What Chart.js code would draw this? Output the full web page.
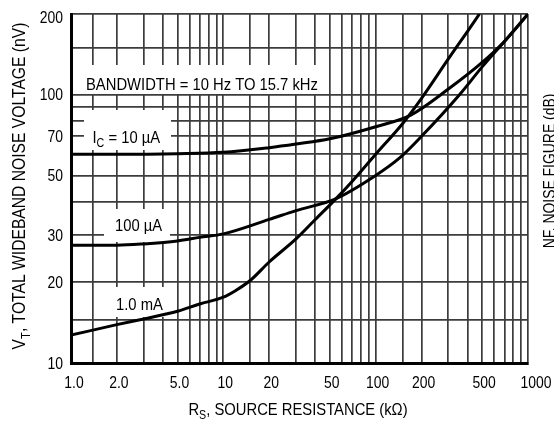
<!DOCTYPE html>
<html>
<head>
<meta charset="utf-8">
<script src="https://cdn.jsdelivr.net/npm/chart.js@4/dist/chart.umd.min.js"></script>
<style>
  html, body { margin: 0; padding: 0; background: #fff; }
  #wrap { width: 554px; height: 421px; }
</style>
</head>
<body>
<div id="wrap"><canvas id="noiseChart" width="554" height="421"></canvas></div>
<script>
// Source resistance (kOhm) against total wideband noise voltage (nV)
const rs10uA = [1, 2, 5, 10, 20, 30, 50, 100, 170, 300, 500, 700, 1000];
const vt10uA = [60, 60, 60.3, 61, 63.5, 65.5, 68.5, 76, 84, 105, 132, 158, 200];

const rs100uA = [1, 2, 3, 5, 7, 10, 20, 30, 55, 100, 143, 200, 355, 500, 700, 1000];
const vt100uA = [27.5, 27.5, 27.8, 28.5, 29.4, 30.3, 34.3, 37, 41, 50, 58, 70, 100, 127, 158, 200];

const rs1mA = [1, 2, 3, 5, 7, 10, 12, 15, 20, 30, 40, 55, 70, 100, 150, 200, 300, 400, 480];
const vt1mA = [12.7, 13.9, 14.6, 15.6, 16.6, 17.6, 18.6, 20.3, 23.8, 29, 34.2, 41, 47.5, 60, 78, 97, 136, 172, 200];

// grid lines (the extra horizontal ones belong to the cut-off NF axis)
const xGridValues = [1, 1.4, 2, 3, 4, 5, 6, 7, 8, 9, 10, 15, 20, 30, 40, 50, 60, 70, 80, 90,
                     100, 150, 200, 300, 400, 500, 600, 700, 800, 900, 1000];
const yGridValues = [10, 14.5, 20, 30, 40, 50, 60, 70, 80, 90, 100, 150, 200];

// tick labels
const xTickValues = [1, 2, 5, 10, 20, 50, 100, 200, 500, 1000];
const xTickText = ['1.0', '2.0', '5.0', '10', '20', '50', '100', '200', '500', '1000'];
const yTickValues = [10, 20, 30, 50, 70, 100, 200];

const FONT = "'Liberation Sans', Arial, sans-serif";
const SQUEEZE = 0.87;

function toPoints(xs, ys) {
    return xs.map((x, i) => ({ x: x, y: ys[i] }));
}

// draws a run of text pieces (some subscripted), squeezed horizontally like the original lettering
function drawParts(ctx, parts, x, y, size, align, angle) {
    ctx.save();
    ctx.translate(x, y);
    if (angle) ctx.rotate(angle);
    ctx.scale(SQUEEZE, 1);
    ctx.fillStyle = '#000';
    ctx.textAlign = 'left';
    ctx.textBaseline = 'alphabetic';
    let total = 0;
    const widths = parts.map(p => {
        ctx.font = (p.sub ? size * 0.72 : size) + 'px ' + FONT;
        const w = ctx.measureText(p.t).width;
        total += w;
        return w;
    });
    let cx = align === 'center' ? -total / 2 : (align === 'right' ? -total : 0);
    parts.forEach((p, i) => {
        ctx.font = (p.sub ? size * 0.72 : size) + 'px ' + FONT;
        ctx.fillText(p.t, cx, p.sub ? size * 0.25 : 0);
        cx += widths[i];
    });
    ctx.restore();
}

function whiteBox(ctx, x1, y1, x2, y2) {
    ctx.save();
    ctx.fillStyle = '#fff';
    ctx.fillRect(x1, y1, x2 - x1, y2 - y1);
    ctx.restore();
}

const labelPlugin = {
    id: 'labelPlugin',
    beforeDatasetsDraw(chart) {
        const ctx = chart.ctx;
        // labels inside the plot sit on white patches that cut the grid
        whiteBox(ctx, 79, 65, 320, 94);
        drawParts(ctx, [{ t: 'BANDWIDTH = 10 Hz TO 15.7 kHz' }], 86, 89.5, 17, 'left');

        whiteBox(ctx, 84, 110, 171, 150);
        drawParts(ctx, [{ t: 'I' }, { t: 'C', sub: true }, { t: ' = 10 \u00B5A' }], 92.5, 143, 17, 'left');

        whiteBox(ctx, 104, 209, 170, 242);
        drawParts(ctx, [{ t: '100 \u00B5A' }], 115, 231, 17, 'left');

        whiteBox(ctx, 105, 287, 170, 317);
        drawParts(ctx, [{ t: '1.0 mA' }], 116, 310, 17, 'left');
    },
    afterDraw(chart) {
        const ctx = chart.ctx;
        const xs = chart.scales.x;
        const ys = chart.scales.y;

        yTickValues.forEach(v => {
            const py = ys.getPixelForValue(v) + 5.7 + (v === 200 ? 3 : 0);
            drawParts(ctx, [{ t: String(v) }], 63, py, 16, 'right');
        });
        xTickValues.forEach((v, i) => {
            let shift = 2;
            if (i === 0) shift = 3;
            if (i === xTickValues.length - 1) shift = 8;
            drawParts(ctx, [{ t: xTickText[i] }], xs.getPixelForValue(v) + shift, 388, 16, 'center');
        });

        drawParts(ctx, [{ t: 'R' }, { t: 'S', sub: true }, { t: ', SOURCE RESISTANCE (k\u03A9)' }],
            298, 415, 17, 'center');
        drawParts(ctx, [{ t: 'V' }, { t: 'T', sub: true }, { t: ', TOTAL WIDEBAND NOISE VOLTAGE (nV)' }],
            25, 186, 18, 'center', -Math.PI / 2);
        drawParts(ctx, [{ t: 'NF, NOISE FIGURE (dB)' }], 555, 171, 16, 'center', -Math.PI / 2);
    }
};

const curveStyle = {
    borderColor: '#000',
    borderWidth: 3,
    pointRadius: 0,
    fill: false,
    cubicInterpolationMode: 'monotone'
};

const ctx = document.getElementById('noiseChart').getContext('2d');
const noiseChart = new Chart(ctx, {
    type: 'line',
    data: {
        datasets: [
            Object.assign({ label: 'IC = 10 uA', data: toPoints(rs10uA, vt10uA) }, curveStyle),
            Object.assign({ label: 'IC = 100 uA', data: toPoints(rs100uA, vt100uA) }, curveStyle),
            Object.assign({ label: 'IC = 1.0 mA', data: toPoints(rs1mA, vt1mA) }, curveStyle)
        ]
    },
    options: {
        responsive: false,
        animation: false,
        devicePixelRatio: 1,
        layout: { padding: { left: 71, top: 14, right: 26, bottom: 58 } },
        plugins: {
            legend: { display: false },
            tooltip: { enabled: false }
        },
        scales: {
            x: {
                type: 'logarithmic',
                min: 1,
                max: 1000,
                afterBuildTicks: axis => { axis.ticks = xGridValues.map(v => ({ value: v })); },
                ticks: { display: false },
                grid: { color: '#3c3c3c', lineWidth: 1.7, drawTicks: false },
                border: { display: true, color: '#000', width: 3 }
            },
            y: {
                type: 'logarithmic',
                min: 10,
                max: 200,
                afterBuildTicks: axis => { axis.ticks = yGridValues.map(v => ({ value: v })); },
                ticks: { display: false },
                grid: { color: '#3c3c3c', lineWidth: 1.7, drawTicks: false },
                border: { display: true, color: '#000', width: 3 }
            }
        }
    },
    plugins: [labelPlugin]
});
</script>
</body>
</html>
